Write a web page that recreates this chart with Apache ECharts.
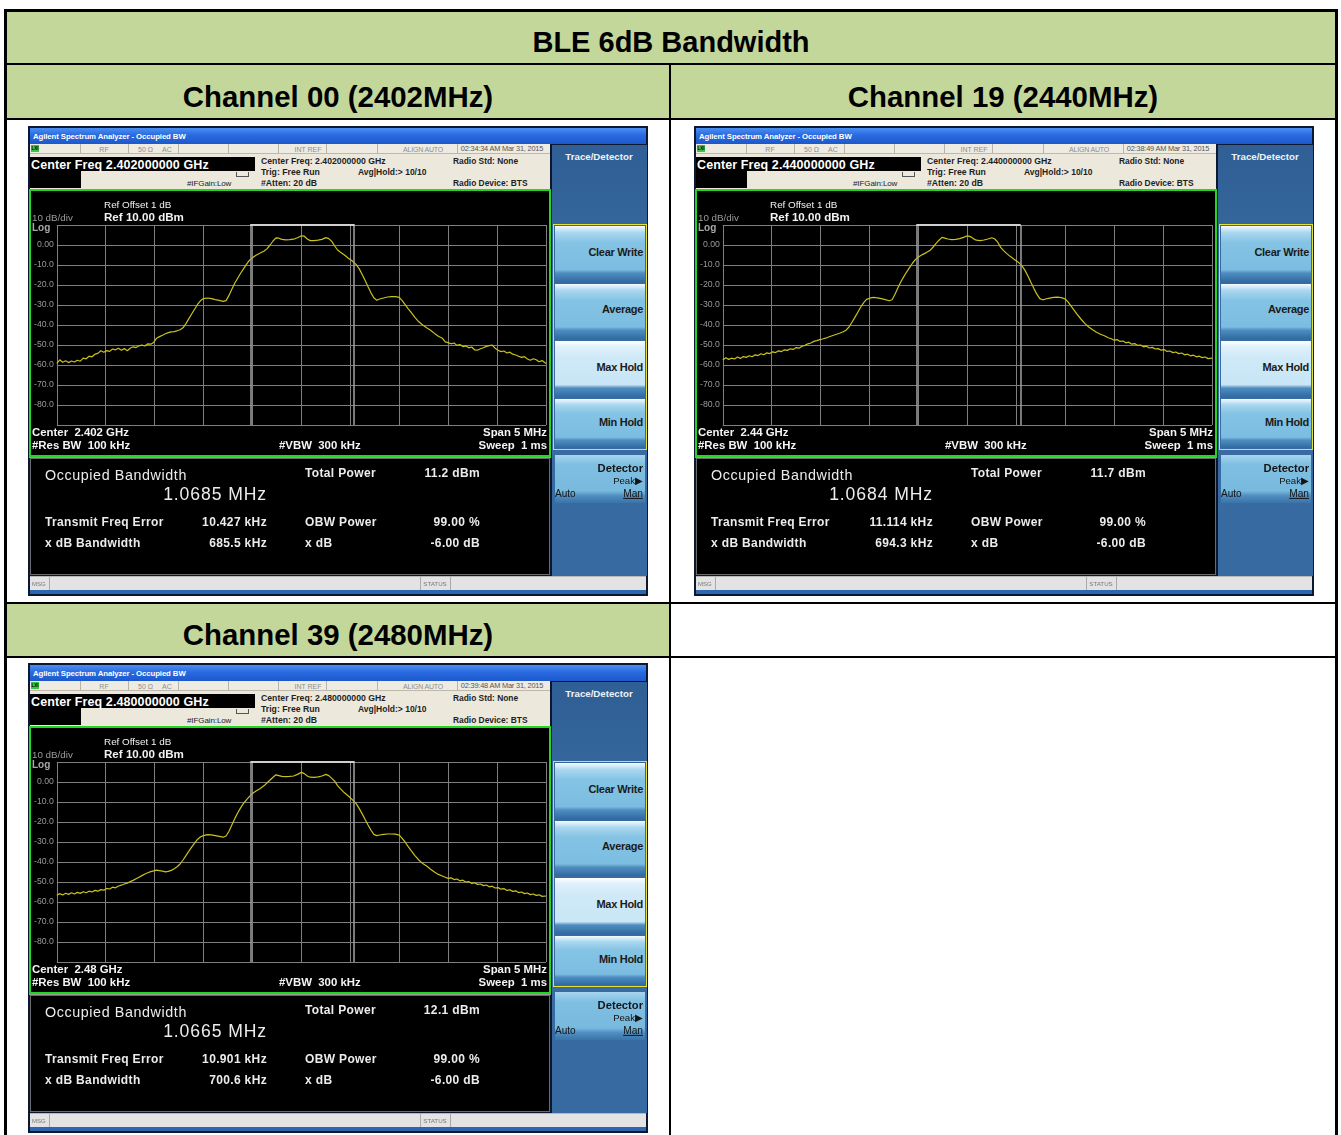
<!DOCTYPE html>
<html><head><meta charset="utf-8">
<script src="https://cdn.jsdelivr.net/npm/echarts@6.0.0/dist/echarts.min.js"></script>
<style>
html,body{margin:0;padding:0;background:#fff;}
body{width:1341px;height:1135px;overflow:hidden;position:relative;font-family:'Liberation Sans',Arial,sans-serif;}
.abs{position:absolute;}
.t{position:absolute;white-space:pre;line-height:1;}
.shot{position:absolute;width:620px;height:470px;background:#0c1830;overflow:hidden;}
</style>
</head><body>
<script>
// ---------------- DATA ----------------
const tableTitle = 'BLE 6dB Bandwidth';
const channelTitles = ['Channel 00 (2402MHz)', 'Channel 19 (2440MHz)', 'Channel 39 (2480MHz)'];
const centerFreqFull = ['2.402000000', '2.440000000', '2.480000000'];
const centerFreqShort = ['2.402 GHz', '2.44 GHz', '2.48 GHz'];
const timeStamps = ['02:34:34 AM Mar 31, 2015', '02:38:49 AM Mar 31, 2015', '02:39:48 AM Mar 31, 2015'];
const occupiedBwMHz = [1.0685, 1.0684, 1.0665];
const totalPowerDbm = [11.2, 11.7, 12.1];
const freqErrorKHz = [10.427, 11.114, 10.901];
const xdbBandwidthKHz = [685.5, 694.3, 700.6];
const obwPowerPct = [99.00, 99.00, 99.00];
const xdbValue = [-6.00, -6.00, -6.00];
const yTickValues = [10, 0, -10, -20, -30, -40, -50, -60, -70, -80, -90];
const spanMHz = 5;
const buttonLabels = ['Clear Write', 'Average', 'Max Hold', 'Min Hold'];

// trace points: [frequency offset from center (MHz), level (dBm)]
const trace00 = [[-2.50,-59.2],[-2.47,-57.4],[-2.44,-58.6],[-2.41,-57.9],[-2.38,-58.8],[-2.35,-58.0],[-2.32,-58.5],[-2.29,-57.6],[-2.26,-58.1],[-2.23,-56.6],[-2.20,-56.9],[-2.17,-55.6],[-2.14,-55.9],[-2.11,-54.6],[-2.08,-54.2],[-2.05,-52.9],[-2.02,-53.6],[-1.99,-52.8],[-1.96,-53.2],[-1.93,-52.0],[-1.90,-52.4],[-1.87,-51.6],[-1.84,-52.6],[-1.81,-51.8],[-1.78,-52.9],[-1.75,-51.6],[-1.72,-50.9],[-1.69,-51.3],[-1.66,-50.4],[-1.63,-50.1],[-1.60,-50.5],[-1.57,-49.4],[-1.54,-49.6],[-1.51,-48.7],[-1.48,-46.6],[-1.45,-45.8],[-1.42,-45.1],[-1.39,-44.4],[-1.36,-43.8],[-1.33,-43.4],[-1.30,-43.3],[-1.27,-42.9],[-1.24,-42.4],[-1.21,-41.4],[-1.18,-39.3],[-1.15,-36.8],[-1.12,-34.4],[-1.09,-32.0],[-1.06,-29.6],[-1.03,-27.8],[-1.00,-26.8],[-0.96,-26.5],[-0.92,-26.8],[-0.88,-27.3],[-0.84,-27.7],[-0.80,-28.2],[-0.77,-27.8],[-0.74,-25.2],[-0.71,-22.0],[-0.68,-19.0],[-0.65,-16.5],[-0.62,-14.0],[-0.59,-11.8],[-0.56,-9.6],[-0.53,-7.6],[-0.50,-6.4],[-0.46,-5.0],[-0.42,-4.0],[-0.38,-3.0],[-0.35,-1.8],[-0.32,0.0],[-0.29,2.0],[-0.26,3.6],[-0.23,3.4],[-0.20,2.8],[-0.16,2.6],[-0.12,2.7],[-0.08,2.9],[-0.04,3.6],[0.00,4.6],[0.03,4.4],[0.06,3.0],[0.09,2.2],[0.13,2.2],[0.17,2.4],[0.21,2.8],[0.25,3.7],[0.28,3.2],[0.31,1.8],[0.34,-0.5],[0.37,-2.5],[0.40,-3.6],[0.44,-5.0],[0.48,-6.6],[0.52,-8.0],[0.56,-9.8],[0.59,-11.8],[0.62,-14.6],[0.65,-17.6],[0.68,-20.8],[0.71,-23.8],[0.74,-26.4],[0.77,-27.6],[0.80,-27.0],[0.84,-26.5],[0.88,-26.0],[0.92,-25.8],[0.96,-25.8],[1.00,-26.2],[1.03,-27.8],[1.06,-29.8],[1.09,-31.8],[1.12,-33.6],[1.16,-36.2],[1.20,-38.4],[1.24,-40.0],[1.28,-41.4],[1.32,-42.6],[1.36,-44.2],[1.40,-45.6],[1.44,-46.6],[1.47,-48.4],[1.50,-48.8],[1.53,-49.4],[1.56,-49.0],[1.59,-50.2],[1.62,-49.8],[1.65,-50.8],[1.68,-50.4],[1.71,-51.4],[1.74,-51.0],[1.77,-52.4],[1.80,-52.6],[1.83,-51.9],[1.86,-51.4],[1.89,-50.7],[1.92,-50.3],[1.95,-50.1],[1.98,-51.6],[2.01,-52.6],[2.04,-53.3],[2.07,-53.0],[2.10,-54.0],[2.13,-53.6],[2.16,-54.6],[2.19,-55.0],[2.22,-55.6],[2.25,-56.2],[2.28,-55.8],[2.31,-57.0],[2.34,-57.6],[2.37,-56.9],[2.40,-57.4],[2.43,-58.4],[2.46,-57.8],[2.50,-59.2]];

const trace19 = [[-2.50,-57.5],[-2.47,-56.4],[-2.44,-57.2],[-2.41,-56.6],[-2.38,-57.0],[-2.35,-56.0],[-2.32,-56.7],[-2.29,-55.8],[-2.26,-56.2],[-2.23,-55.4],[-2.20,-55.9],[-2.17,-54.9],[-2.14,-55.3],[-2.11,-54.4],[-2.08,-54.9],[-2.05,-53.9],[-2.02,-54.3],[-1.99,-53.4],[-1.96,-53.8],[-1.93,-52.9],[-1.90,-53.3],[-1.87,-52.4],[-1.84,-52.7],[-1.81,-51.9],[-1.78,-52.2],[-1.75,-51.3],[-1.72,-51.6],[-1.69,-50.6],[-1.66,-50.2],[-1.63,-49.4],[-1.60,-49.0],[-1.57,-48.2],[-1.54,-47.8],[-1.51,-47.3],[-1.48,-47.0],[-1.45,-46.6],[-1.42,-46.0],[-1.39,-45.5],[-1.36,-45.0],[-1.33,-44.5],[-1.30,-44.0],[-1.27,-43.4],[-1.24,-42.6],[-1.21,-41.0],[-1.18,-38.6],[-1.15,-36.2],[-1.12,-33.6],[-1.09,-31.0],[-1.06,-28.8],[-1.03,-27.2],[-1.00,-26.6],[-0.96,-26.2],[-0.92,-26.4],[-0.88,-26.8],[-0.84,-27.3],[-0.80,-27.9],[-0.77,-27.4],[-0.74,-24.6],[-0.71,-21.4],[-0.68,-18.4],[-0.65,-15.8],[-0.62,-13.4],[-0.59,-11.2],[-0.56,-9.0],[-0.53,-7.2],[-0.50,-6.0],[-0.46,-4.8],[-0.42,-3.8],[-0.38,-2.6],[-0.35,-1.0],[-0.32,0.8],[-0.29,2.4],[-0.26,3.8],[-0.23,3.4],[-0.20,3.0],[-0.16,2.7],[-0.12,2.8],[-0.08,3.2],[-0.04,3.8],[0.00,4.6],[0.03,4.2],[0.06,3.2],[0.09,2.4],[0.13,2.2],[0.17,2.5],[0.21,3.0],[0.25,3.6],[0.28,3.0],[0.31,1.4],[0.34,-1.2],[0.37,-2.8],[0.40,-4.2],[0.44,-5.8],[0.48,-7.2],[0.52,-8.6],[0.56,-10.6],[0.59,-12.8],[0.62,-15.6],[0.65,-18.8],[0.68,-21.8],[0.71,-24.6],[0.74,-26.8],[0.77,-27.4],[0.80,-27.0],[0.84,-26.6],[0.88,-26.2],[0.92,-26.1],[0.96,-26.3],[1.00,-27.0],[1.03,-28.6],[1.06,-30.6],[1.09,-32.6],[1.12,-34.6],[1.16,-37.0],[1.20,-39.2],[1.24,-41.0],[1.28,-42.4],[1.32,-43.6],[1.36,-44.6],[1.40,-45.4],[1.44,-46.4],[1.47,-46.9],[1.50,-47.6],[1.53,-47.3],[1.56,-48.2],[1.59,-48.0],[1.62,-48.9],[1.65,-48.6],[1.68,-49.6],[1.71,-49.3],[1.74,-50.2],[1.77,-50.0],[1.80,-50.9],[1.83,-50.6],[1.86,-51.5],[1.89,-51.2],[1.92,-52.0],[1.95,-51.8],[1.98,-52.6],[2.01,-52.3],[2.04,-53.2],[2.07,-53.0],[2.10,-53.8],[2.13,-53.5],[2.16,-54.3],[2.19,-54.0],[2.22,-54.9],[2.25,-54.6],[2.28,-55.4],[2.31,-55.1],[2.34,-55.9],[2.37,-55.6],[2.40,-56.3],[2.43,-56.0],[2.46,-56.8],[2.50,-56.6]];

const trace39 = [[-2.50,-56.6],[-2.47,-55.8],[-2.44,-56.5],[-2.41,-55.6],[-2.38,-56.2],[-2.35,-55.4],[-2.32,-56.0],[-2.29,-55.2],[-2.26,-55.7],[-2.23,-54.9],[-2.20,-55.4],[-2.17,-54.6],[-2.14,-55.0],[-2.11,-54.2],[-2.08,-54.6],[-2.05,-53.8],[-2.02,-54.1],[-1.99,-53.2],[-1.96,-53.5],[-1.93,-52.6],[-1.90,-52.9],[-1.87,-52.0],[-1.84,-51.6],[-1.81,-51.0],[-1.78,-50.6],[-1.75,-49.8],[-1.72,-49.2],[-1.69,-48.4],[-1.66,-47.6],[-1.63,-46.8],[-1.60,-46.0],[-1.57,-45.4],[-1.54,-44.8],[-1.51,-44.4],[-1.48,-44.1],[-1.45,-44.3],[-1.42,-44.6],[-1.39,-44.9],[-1.36,-44.7],[-1.33,-44.2],[-1.30,-43.4],[-1.27,-42.4],[-1.24,-41.0],[-1.21,-39.0],[-1.18,-36.8],[-1.15,-34.6],[-1.12,-32.4],[-1.09,-30.4],[-1.06,-28.6],[-1.03,-27.4],[-1.00,-26.8],[-0.96,-26.3],[-0.92,-26.4],[-0.88,-26.8],[-0.84,-27.2],[-0.80,-27.6],[-0.77,-27.0],[-0.74,-24.6],[-0.71,-21.4],[-0.68,-18.2],[-0.65,-15.4],[-0.62,-12.8],[-0.59,-10.6],[-0.56,-8.8],[-0.53,-7.2],[-0.50,-5.8],[-0.46,-4.4],[-0.42,-3.2],[-0.38,-1.8],[-0.35,-0.4],[-0.32,1.0],[-0.29,2.4],[-0.26,3.6],[-0.23,3.2],[-0.20,2.8],[-0.16,2.7],[-0.12,2.8],[-0.08,3.0],[-0.04,3.8],[0.00,4.8],[0.03,4.2],[0.06,3.0],[0.09,2.4],[0.13,2.3],[0.17,2.6],[0.21,3.0],[0.25,3.8],[0.28,3.2],[0.31,1.8],[0.34,0.4],[0.37,-1.8],[0.40,-3.4],[0.44,-5.4],[0.48,-7.0],[0.52,-8.8],[0.56,-10.8],[0.59,-13.2],[0.62,-15.8],[0.65,-18.6],[0.68,-21.4],[0.71,-24.0],[0.74,-26.2],[0.77,-26.8],[0.80,-26.5],[0.84,-26.2],[0.88,-26.0],[0.92,-26.0],[0.96,-26.1],[1.00,-26.6],[1.03,-28.2],[1.06,-30.0],[1.09,-32.2],[1.12,-34.2],[1.16,-36.8],[1.20,-39.0],[1.24,-40.8],[1.28,-42.0],[1.32,-43.6],[1.36,-45.0],[1.40,-46.2],[1.44,-47.0],[1.47,-47.6],[1.50,-48.2],[1.53,-47.9],[1.56,-48.8],[1.59,-48.5],[1.62,-49.4],[1.65,-49.1],[1.68,-50.0],[1.71,-49.8],[1.74,-50.7],[1.77,-50.4],[1.80,-51.2],[1.83,-51.0],[1.86,-51.8],[1.89,-51.5],[1.92,-52.4],[1.95,-52.1],[1.98,-53.0],[2.01,-52.8],[2.04,-53.6],[2.07,-53.3],[2.10,-54.2],[2.13,-53.9],[2.16,-54.7],[2.19,-54.4],[2.22,-55.3],[2.25,-55.0],[2.28,-55.8],[2.31,-55.5],[2.34,-56.3],[2.37,-56.0],[2.40,-56.7],[2.43,-56.4],[2.46,-57.2],[2.50,-57.0]];

const traces = [trace00, trace19, trace39];

// ---------------- LAYOUT ----------------
const FONT = "'Liberation Sans', Arial, sans-serif";
function box(parent, x, y, w, h, css) {
  const d = document.createElement('div');
  d.className = 'abs';
  d.style.cssText = `left:${x}px;top:${y}px;width:${w}px;height:${h}px;` + (css || '');
  parent.appendChild(d); return d;
}
// y = vertical centre; align: 'l' (x = left), 'r' (x = right edge), 'c' (x = centre)
function txt(parent, s, x, y, size, css, align) {
  const d = document.createElement('div');
  d.className = 't';
  d.textContent = s;
  const tx = align === 'r' ? '-100%' : align === 'c' ? '-50%' : '0';
  d.style.cssText = `left:${x}px;top:${y}px;font-size:${size}px;transform:translate(${tx},-50%);font-family:${FONT};` + (css || '');
  parent.appendChild(d); return d;
}

// ---- table ----
const B = document.body;
box(B, 4, 9, 1334, 1140, 'border:3px solid #000;box-sizing:border-box;');
box(B, 7, 12, 1328, 51, 'background:#c4d79b;');
box(B, 7, 63, 1328, 2, 'background:#000;');
box(B, 7, 65, 1328, 53, 'background:#c4d79b;');
box(B, 7, 118, 1328, 2, 'background:#000;');
box(B, 669, 65, 2, 1080, 'background:#000;');
box(B, 7, 602, 1328, 2, 'background:#000;');
box(B, 7, 604, 662, 52, 'background:#c4d79b;');
box(B, 7, 656, 1328, 2, 'background:#000;');
txt(B, tableTitle, 671, 42, 29, 'font-weight:bold;color:#000;', 'c');
txt(B, channelTitles[0], 338, 97, 29.4, 'font-weight:bold;color:#000;', 'c');
txt(B, channelTitles[1], 1003, 97, 29.4, 'font-weight:bold;color:#000;', 'c');
txt(B, channelTitles[2], 338, 635, 29.4, 'font-weight:bold;color:#000;', 'c');

const origins = [[28, 126], [694, 126], [28, 663]];

function buildShot(i) {
  const [ox, oy] = origins[i];
  const S = document.createElement('div');
  S.className = 'shot';
  S.style.left = ox + 'px'; S.style.top = oy + 'px';
  B.appendChild(S);
  // title bar
  box(S, 2, 2, 616, 16, 'background:linear-gradient(#4a8ff2,#2a6ae0 45%,#1c58cc);');
  txt(S, 'Agilent Spectrum Analyzer - Occupied BW', 5, 10.5, 7.8, 'color:#fff;font-weight:bold;letter-spacing:-0.1px;');
  // status row
  box(S, 2, 18, 520, 10, 'background:#eeebe3;border-bottom:1px solid #bdb8aa;box-sizing:border-box;');
  box(S, 3, 19, 8, 7, 'background:#3fc43f;');
  txt(S, 'LXI', 3.5, 22.7, 4.5, 'color:#000;font-weight:bold;');
  [52, 100, 150, 200, 250, 298, 349, 429].forEach(x => box(S, x, 18, 1, 9, 'background:#b8b4a8;'));
  const st = 'color:#8d8d8d;';
  txt(S, 'RF', 76, 22.8, 7, st, 'c');
  txt(S, '50 Ω', 110, 22.8, 7, st);
  txt(S, 'AC', 134, 22.8, 7, st);
  txt(S, 'INT REF', 280, 22.8, 7, st, 'c');
  txt(S, 'ALIGN AUTO', 395, 22.8, 7, st + 'letter-spacing:-0.2px;', 'c');
  txt(S, timeStamps[i], 474, 22.8, 7.4, 'color:#555;letter-spacing:-0.2px;', 'c');
  // header
  box(S, 2, 28, 520, 35, 'background:#ece8dc;');
  box(S, 2, 31, 225, 14, 'background:#000;');
  txt(S, 'Center Freq ' + centerFreqFull[i] + ' GHz', 3, 38.5, 12.5, 'color:#fff;font-weight:bold;letter-spacing:0.1px;');
  box(S, 2, 45, 51, 17, 'background:#000;');
  txt(S, '#IFGain:Low', 159, 57.5, 8, 'color:#222;letter-spacing:-0.1px;');
  box(S, 208, 46, 13, 5, 'border:1px solid #555;border-top:none;box-sizing:border-box;');
  const h = 'color:#1e1e1e;font-weight:bold;';
  txt(S, 'Center Freq: ' + centerFreqFull[i] + ' GHz', 233, 34.5, 8.7, h);
  txt(S, 'Trig: Free Run', 233, 45.5, 8.7, h);
  txt(S, '#Atten: 20 dB', 233, 56.5, 8.7, h);
  txt(S, 'Avg|Hold:> 10/10', 330, 45.5, 8.5, h);
  txt(S, 'Radio Std: None', 425, 34.5, 8.4, h);
  txt(S, 'Radio Device: BTS', 425, 56.5, 8.4, h);
  // plot panel
  const P = box(S, 1, 63, 522, 268, 'border:2px solid #22d622;box-sizing:border-box;background:#000;');
  const C = box(P, 0, 0, 518, 264, '');
  const wt = 'color:#f2f2f2;';
  txt(S, 'Ref Offset 1 dB', 76, 79, 9.9, wt);
  txt(S, 'Ref 10.00 dBm', 76, 91, 11.6, wt + 'font-weight:bold;');
  txt(S, '10 dB/div', 4, 91.5, 9.8, 'color:#9a9a9a;');
  txt(S, 'Log', 4, 101.5, 10, 'color:#a8a8a8;font-weight:bold;');
  const bt = 'color:#f4f4f4;font-weight:bold;';
  txt(S, 'Center  ' + centerFreqShort[i], 4, 307, 11.4, bt);
  txt(S, '#Res BW  100 kHz', 4, 320, 11.4, bt);
  txt(S, '#VBW  300 kHz', 251, 320, 11.4, bt);
  txt(S, 'Span ' + spanMHz + ' MHz', 519, 307, 11.4, bt, 'r');
  txt(S, 'Sweep  1 ms', 519, 320, 11.4, bt, 'r');
  // measurement panel
  box(S, 1, 331, 522, 1, 'background:#9a9a9a;');
  box(S, 2, 332, 520, 117, 'background:#000;border:1px solid #6a6a6a;box-sizing:border-box;');
  const mt = 'color:#ececec;';
  txt(S, 'Occupied Bandwidth', 17, 349, 14.3, mt + 'letter-spacing:0.6px;');
  txt(S, occupiedBwMHz[i].toFixed(4) + ' MHz', 239, 368.5, 17.6, mt + 'letter-spacing:0.9px;', 'r');
  const mb = mt + 'font-weight:bold;letter-spacing:0.35px;';
  txt(S, 'Transmit Freq Error', 17, 396, 12, mb);
  txt(S, freqErrorKHz[i].toFixed(3) + ' kHz', 239, 396, 12, mb, 'r');
  txt(S, 'x dB Bandwidth', 17, 417, 12, mb);
  txt(S, xdbBandwidthKHz[i].toFixed(1) + ' kHz', 239, 417, 12, mb, 'r');
  txt(S, 'Total Power', 277, 347, 12, mb);
  txt(S, totalPowerDbm[i].toFixed(1) + ' dBm', 452, 347, 12, mb, 'r');
  txt(S, 'OBW Power', 277, 396, 12, mb);
  txt(S, obwPowerPct[i].toFixed(2) + ' %', 452, 396, 12, mb, 'r');
  txt(S, 'x dB', 277, 417, 12, mb);
  txt(S, xdbValue[i].toFixed(2) + ' dB', 452, 417, 12, mb, 'r');
  // right soft-key panel
  box(S, 524, 19, 95, 431, 'background:linear-gradient(#2f5f94,#3a6ca3 40%,#386aa2);');
  txt(S, 'Trace/Detector', 571, 31, 9.7, 'color:#eef3fa;font-weight:bold;', 'c');
  box(S, 525, 98, 94, 226, 'border:1.5px solid #e6e032;box-sizing:border-box;');
  const btnTops = [100, 158, 215, 273];
  const btnH = [56, 55, 56, 49];
  buttonLabels.forEach((lab, k) => {
    const light = k === 2;
    const bg = light
      ? 'linear-gradient(#ffffff 0%,#dff1fb 10%,#cfe9f7 30%,#c8e6f6 78%,#4f8dc0 84%,#2f6aa0 100%)'
      : 'linear-gradient(#f4fbff 0%,#a9d7ef 12%,#84c3e4 30%,#7bbde1 78%,#4f8dc0 84%,#2f6aa0 100%)';
    box(S, 527, btnTops[k], 90, btnH[k], 'background:' + bg + ';');
    txt(S, lab, 615, btnTops[k] + btnH[k] * 0.46, 11, 'color:#1b1b1b;font-weight:bold;letter-spacing:-0.3px;', 'r');
  });
  box(S, 527, 329, 90, 48, 'background:linear-gradient(#a7d4ec 0%,#7fbfe2 20%,#78b9de 75%,#4f8dc0 85%,#3a74a8 100%);');
  txt(S, 'Detector', 615, 343, 11.2, 'color:#151515;font-weight:bold;', 'r');
  txt(S, 'Peak▶', 615, 355, 9.6, 'color:#151515;', 'r');
  txt(S, 'Auto', 527, 368, 10, 'color:#151515;');
  txt(S, 'Man', 615, 368, 10.2, 'color:#151515;text-decoration:underline;', 'r');
  // bottom status bar
  box(S, 2, 450, 616, 14, 'background:#e3e3e3;border-top:1px solid #b8b8b8;box-sizing:border-box;');
  box(S, 21, 451, 1, 13, 'background:#aaa;');
  box(S, 392, 451, 1, 13, 'background:#aaa;');
  box(S, 422, 451, 1, 13, 'background:#aaa;');
  txt(S, 'MSG', 4, 457.5, 6, 'color:#777;');
  txt(S, 'STATUS', 407, 457.5, 6.2, 'color:#777;', 'c');
  box(S, 2, 464, 616, 4, 'background:#2b66ae;');

  // -------- ECharts plot --------
  const chart = echarts.init(C, null, { renderer: 'canvas' });
  const centre = freqErrorKHz[i] / 1000;
  const lo = centre - occupiedBwMHz[i] / 2;
  const hi = centre + occupiedBwMHz[i] / 2;
  const yMax = yTickValues[0], yMin = yTickValues[yTickValues.length - 1];
  chart.setOption({
    animation: false,
    grid: { left: 23, top: 34, width: 492, height: 200 },
    xAxis: {
      type: 'value', min: -spanMHz / 2, max: spanMHz / 2, interval: spanMHz / 10,
      axisLabel: { show: false }, axisTick: { show: false },
      axisLine: { show: false },
      splitLine: { show: true, lineStyle: { color: '#7f7f7f', width: 1 } }
    },
    yAxis: {
      type: 'value', min: yMin, max: yMax, interval: 10,
      axisTick: { show: false }, axisLine: { show: false },
      axisLabel: {
        color: '#9a9a9a', fontSize: 8.7, fontFamily: FONT, margin: 3,
        formatter: v => (v === yMax || v === yMin) ? '' : (v === 0 ? '0.00' : v.toFixed(1))
      },
      splitLine: { show: true, lineStyle: { color: '#7f7f7f', width: 1 } }
    },
    series: [{
      type: 'line', data: traces[i], showSymbol: false, symbol: 'none',
      lineStyle: { color: '#c9c21c', width: 1.2 },
      silent: true,
      markLine: {
        silent: true, symbol: 'none', animation: false,
        label: { show: false },
        lineStyle: { color: '#a2a2a2', width: 1.5, type: 'solid' },
        data: [
          { xAxis: lo },
          { xAxis: hi },
          [{ coord: [lo, yMax], lineStyle: { color: '#cfcfcf', width: 2, type: 'solid' } }, { coord: [hi, yMax] }]
        ]
      }
    }]
  });
}
[0, 1, 2].forEach(buildShot);
</script>
</body></html>
